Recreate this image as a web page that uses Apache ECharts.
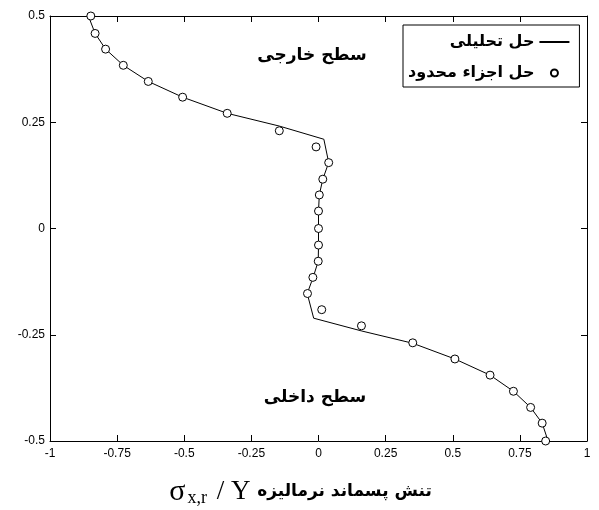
<!DOCTYPE html>
<html>
<head>
<meta charset="utf-8">
<script src="https://cdn.jsdelivr.net/npm/echarts@6/dist/echarts.min.js"></script>
<style>
  html, body {margin: 0; padding: 0; background: #fff;}
  #chart {width: 599px; height: 510px;}
</style>
</head>
<body>
<div id="chart"></div>
<script>
// حل تحلیلی (analytical curve)
var lineX = [-0.857, -0.832, -0.793, -0.727, -0.634, -0.506, -0.340, -0.146, 0.020, 0.038, 0.016, 0.003, 0.0, 0.0, 0.0, -0.001, -0.020, -0.042, -0.018, 0.160, 0.351, 0.508, 0.639, 0.726, 0.790, 0.833, 0.855];
var lineY = [0.5, 0.459, 0.422, 0.384, 0.346, 0.309, 0.271, 0.241, 0.210, 0.155, 0.116, 0.079, 0.040, 0.0, -0.039, -0.077, -0.115, -0.153, -0.211, -0.241, -0.270, -0.307, -0.345, -0.383, -0.421, -0.458, -0.5];
// حل اجزاء محدود (finite element points)
var feX = [-0.848, -0.832, -0.793, -0.727, -0.634, -0.506, -0.340, -0.146, -0.009, 0.038, 0.016, 0.003, 0.0, 0.0, 0.0, -0.001, -0.021, -0.041, 0.012, 0.160, 0.351, 0.508, 0.639, 0.726, 0.790, 0.833, 0.846];
var feY = [0.5, 0.459, 0.422, 0.384, 0.346, 0.309, 0.271, 0.230, 0.192, 0.155, 0.116, 0.079, 0.041, 0.0, -0.039, -0.077, -0.115, -0.153, -0.191, -0.229, -0.269, -0.307, -0.345, -0.383, -0.421, -0.458, -0.5];

var lineData = [], feData = [];
lineX.forEach(function (x, i) { lineData.push([x, lineY[i]]); });
feX.forEach(function (x, i) { feData.push([x, feY[i]]); });

var arabicFont = '"DejaVu Sans", sans-serif';
var serifFont = '"Liberation Serif", "Times New Roman", serif';
var tickFont = {fontFamily: '"Liberation Sans", Arial, sans-serif', fontSize: 12, color: '#000'};

function frameAxis(pos) {
  return {
    type: 'value', position: pos,
    axisLine: {onZero: false, lineStyle: {color: '#000', width: 1}},
    axisTick: {inside: true, length: 6, lineStyle: {color: '#000'}},
    axisLabel: {show: false},
    splitLine: {show: false}
  };
}

var xTop = Object.assign(frameAxis('top'), {min: -1, max: 1, interval: 0.25});
var yRight = Object.assign(frameAxis('right'), {min: -0.5, max: 0.5, interval: 0.25});

var option = {
  animation: false,
  backgroundColor: '#fff',
  grid: {left: 50, top: 16, right: 12, bottom: 69, show: false, outerBoundsMode: 'none'},
  legend: {
    orient: 'vertical',
    left: 403,
    top: 25,
    align: 'right',
    itemWidth: 30,
    itemHeight: 7,
    itemGap: 15,
    padding: [9, 9, 6, 5],
    borderColor: '#000',
    borderWidth: 1,
    backgroundColor: '#fff',
    textStyle: {fontFamily: arabicFont, fontWeight: 'bold', fontSize: 16, color: '#000'},
    data: [
      {name: 'حل تحلیلی', itemStyle: {color: 'rgba(0,0,0,0)', borderWidth: 0, opacity: 0}},
      {name: 'حل اجزاء محدود'}
    ]
  },
  xAxis: [{
    type: 'value', min: -1, max: 1, interval: 0.25,
    axisLine: {onZero: false, lineStyle: {color: '#000', width: 1}},
    axisTick: {inside: true, length: 6, lineStyle: {color: '#000'}},
    axisLabel: Object.assign({margin: 7}, tickFont),
    splitLine: {show: false},
    name: '{s|σ}{sub|x,r}{t| / Y }{a|تنش پسماند نرمالیزه}',
    nameLocation: 'middle',
    nameGap: 36,
    nameTextStyle: {
      padding: [0, 36, 0, 0],
      rich: {
        s: {fontFamily: serifFont, fontSize: 30, color: '#000'},
        sub: {fontFamily: serifFont, fontSize: 18, color: '#000', verticalAlign: 'bottom', padding: [12, 3, 0, 2]},
        t: {fontFamily: serifFont, fontSize: 27, color: '#000'},
        a: {fontFamily: arabicFont, fontWeight: 'bold', fontSize: 17, color: '#000'}
      }
    }
  }, xTop],
  yAxis: [{
    type: 'value', min: -0.5, max: 0.5, interval: 0.25,
    axisLine: {onZero: false, lineStyle: {color: '#000', width: 1}},
    axisTick: {inside: true, length: 6, lineStyle: {color: '#000'}},
    axisLabel: Object.assign({margin: 5}, tickFont),
    splitLine: {show: false}
  }, yRight],
  graphic: [
    {type: 'text', x: 312, y: 56, style: {text: 'سطح خارجی', font: 'bold 17px ' + arabicFont, fill: '#000', textAlign: 'center', textVerticalAlign: 'middle'}},
    {type: 'text', x: 315, y: 398, style: {text: 'سطح داخلی', font: 'bold 17px ' + arabicFont, fill: '#000', textAlign: 'center', textVerticalAlign: 'middle'}}
  ],
  series: [{
    name: 'حل تحلیلی',
    type: 'line',
    data: lineData,
    symbol: 'none',
    lineStyle: {color: '#000', width: 1},
    itemStyle: {color: '#000'},
    z: 2
  }, {
    name: 'حل اجزاء محدود',
    type: 'scatter',
    data: feData,
    symbol: 'circle',
    symbolSize: 8,
    itemStyle: {color: '#fff', borderColor: '#000', borderWidth: 1, opacity: 1},
    z: 3
  }]
};

var chart = echarts.init(document.getElementById('chart'));
chart.setOption(option, true);
</script>
</body>
</html>
